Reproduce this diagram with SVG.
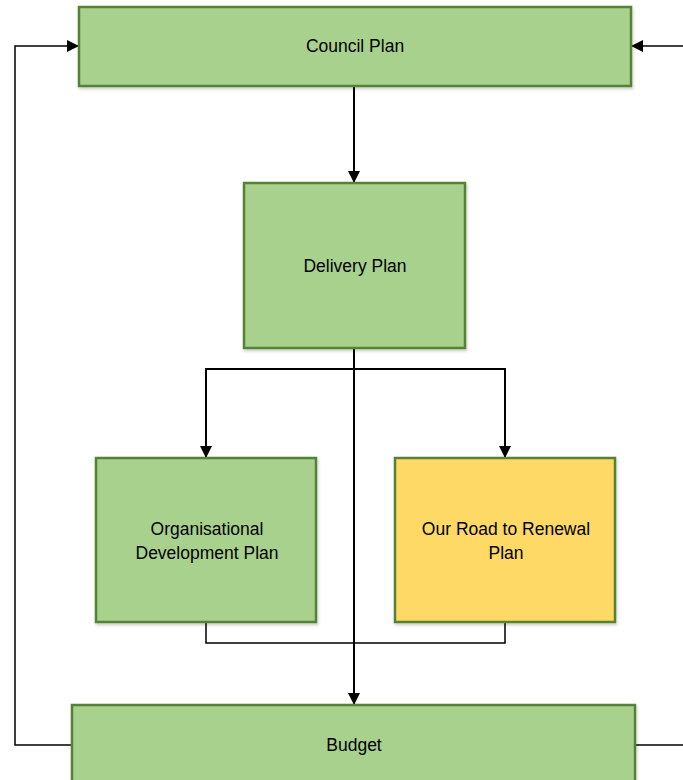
<svg xmlns="http://www.w3.org/2000/svg" width="683" height="780" viewBox="0 0 683 780">
<defs>
<marker id="arr" viewBox="0 0 12 12" refX="12" refY="6" markerWidth="12" markerHeight="12" markerUnits="userSpaceOnUse" orient="auto">
<path d="M0,0 L12,6 L0,12 Z" fill="#000"/>
</marker>
<filter id="sh" x="-5%" y="-5%" width="110%" height="115%">
<feDropShadow dx="1" dy="2" stdDeviation="1.5" flood-color="#000" flood-opacity="0.2"/>
</filter>
</defs>
<style>
.box{fill:#A9D18E;stroke:#548235;stroke-width:2.5;filter:url(#sh)}
.yel{fill:#FFD966;stroke:#548235;stroke-width:2.5;filter:url(#sh)}
.lbl{font-family:"Liberation Sans",Arial,sans-serif;font-size:17.5px;fill:#000;text-anchor:middle}
.ln{fill:none;stroke:#000;stroke-width:2}
.thin{fill:none;stroke:#000;stroke-width:1.5}
</style>
<rect width="683" height="780" fill="#fff"/>
<g id="connectors">
<path class="ln" d="M354,86 V183" marker-end="url(#arr)"/>
<path class="ln" d="M354,348 V705" marker-end="url(#arr)"/>
<path class="ln" d="M206,458 V369 H505 V458" marker-end="url(#arr)"/>
<path class="ln" d="M206,369 V458" marker-end="url(#arr)"/>
<path class="thin" d="M206,622 V643 H505 V622"/>
<path class="thin" d="M72,745 H15 V46 H79" marker-end="url(#arr)"/>
<path class="thin" d="M683,46 H631" marker-end="url(#arr)"/>
<path class="thin" d="M635,745 H683"/>
</g>
<g id="council-plan">
<rect class="box" x="79" y="7" width="552" height="79"/>
<text class="lbl" x="355" y="52">Council Plan</text>
</g>
<g id="delivery-plan">
<rect class="box" x="244" y="183" width="221" height="165"/>
<text class="lbl" x="355" y="272">Delivery Plan</text>
</g>
<g id="org-dev-plan">
<rect class="box" x="96" y="458" width="220" height="164"/>
<text class="lbl" x="207" y="535">Organisational</text>
<text class="lbl" x="207" y="559">Development Plan</text>
</g>
<g id="road-renewal-plan">
<rect class="yel" x="395" y="458" width="220" height="164"/>
<text class="lbl" x="506" y="535">Our Road to Renewal</text>
<text class="lbl" x="506" y="559">Plan</text>
</g>
<g id="budget">
<rect class="box" x="72" y="705" width="563" height="90"/>
<text class="lbl" x="354" y="751">Budget</text>
</g>
</svg>
